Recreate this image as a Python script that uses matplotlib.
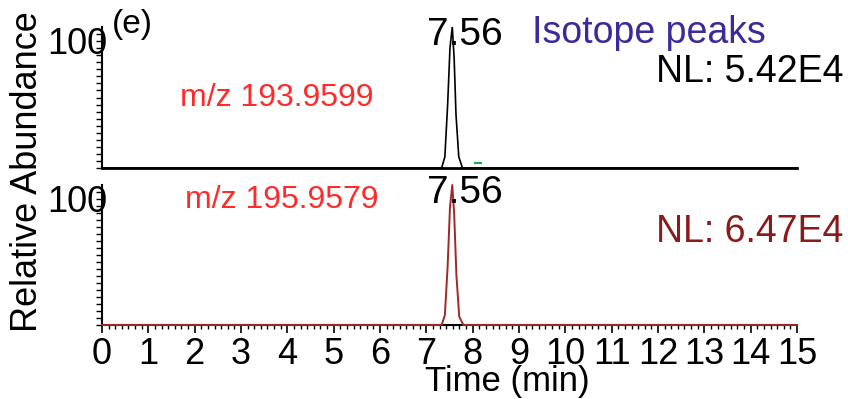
"""
Cromatograma de iones extraídos: picos isotópicos (e)
"""

import matplotlib
matplotlib.use('Agg')
import matplotlib.pyplot as plt
from matplotlib.ticker import MultipleLocator, FixedLocator, NullLocator
from matplotlib.transforms import blended_transform_factory

# Datos de las trazas (tiempo en min, abundancia relativa en %)
top_time = [0.0, 7.33, 7.40, 7.46, 7.51, 7.56, 7.60, 7.64, 7.70, 7.78, 15.0]
top_abund = [0, 0, 8, 45, 85, 100, 78, 38, 8, 0, 0]

green_time = [8.06, 8.19]
green_abund = [3.5, 3.5]

bot_time = [0.0, 7.33, 7.40, 7.46, 7.51, 7.56, 7.60, 7.65, 7.71, 7.80, 15.0]
bot_abund = [0, 0, 7, 42, 84, 100, 80, 35, 6, 0, 0]

peak_rt = 7.56
mz_labels = ['m/z 193.9599', 'm/z 195.9579']
nl_labels = ['NL: 5.42E4', 'NL: 6.47E4']
x_ticks = list(range(0, 16))

plt.rcParams['font.family'] = ['Liberation Sans', 'DejaVu Sans']

W, H = 848, 399
fig = plt.figure(figsize=(W / 100, H / 100), dpi=100)


def px(x, y):
    # coordenadas en pixeles -> fraccion de figura
    return x / W, 1 - y / H


def make_axes(top, bottom):
    left, right = 102, 797
    ax = fig.add_axes([left / W, 1 - bottom / H, (right - left) / W, (bottom - top) / H])
    ax.set_xlim(0, 15)
    ax.set_ylim(0, 100)
    for s in ['top', 'right']:
        ax.spines[s].set_visible(False)
    ax.spines['left'].set_linewidth(1.5)
    ax.spines['bottom'].set_linewidth(2)
    ax.yaxis.set_major_locator(FixedLocator([100]))
    ax.yaxis.set_minor_locator(MultipleLocator(5))
    ax.tick_params(axis='y', which='major', length=0, pad=-4, labelsize=26)
    ax.tick_params(axis='y', which='minor', length=4, width=1, direction='out')
    for lbl in ax.get_yticklabels():
        lbl.set_va('top')
    return ax


ax1 = make_axes(27, 168)
ax2 = make_axes(185, 325)

# Panel superior
ax1.plot(top_time, top_abund, color='black', lw=1.2, zorder=3)
ax1.plot(green_time, green_abund, color='#22aa44', lw=1.5, zorder=3)
ax1.xaxis.set_major_locator(NullLocator())
ax1.xaxis.set_minor_locator(NullLocator())

# Panel inferior
ax2.plot(bot_time, bot_abund, color='#a02828', lw=1.4, zorder=3, clip_on=False)
ax2.xaxis.set_major_locator(FixedLocator(x_ticks))
ax2.xaxis.set_minor_locator(MultipleLocator(1 / 7))
ax2.tick_params(axis='x', which='major', length=6, width=1.2, pad=3, labelsize=26)
ax2.tick_params(axis='x', which='minor', length=3, width=1)
ax2.spines['bottom'].set_linewidth(1.5)

# Etiqueta del tiempo de retencion sobre cada pico
for ax in (ax1, ax2):
    tr = blended_transform_factory(ax.transData, ax.transAxes)
    ax.annotate(f'{peak_rt:.2f}', xy=(peak_rt, 1), xycoords=tr,
                xytext=(9.0, -19), textcoords='offset points',
                ha='center', va='bottom', fontsize=28, color='black')

fig.text(*px(112, 24), '(e)', fontsize=24, va='center', ha='left')
fig.text(*px(532, 33), 'Isotope peaks', fontsize=27, va='center', ha='left', color='#3a2a9c')
fig.text(*px(843, 72), nl_labels[0], fontsize=27, va='center', ha='right', color='black')
fig.text(*px(180, 98), mz_labels[0], fontsize=23, va='center', ha='left', color='#ff2a2a')
fig.text(*px(185, 200), mz_labels[1], fontsize=23, va='center', ha='left', color='#ff2a2a')
fig.text(*px(843, 232), nl_labels[1], fontsize=27, va='center', ha='right', color='#8b1a1a')
fig.text(*px(507, 381), 'Time (min)', fontsize=25, va='center', ha='center')
fig.text(*px(28, 172), 'Relative Abundance', fontsize=26, va='center', ha='center', rotation=90)

fig.savefig('out.png', dpi=100)
